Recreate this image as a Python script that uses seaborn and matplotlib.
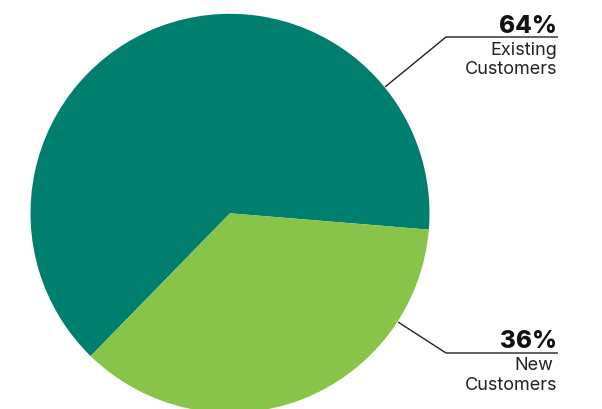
import matplotlib
matplotlib.use("Agg")
import matplotlib.pyplot as plt
import seaborn as sns

categories = ["Existing Customers", "New Customers"]
values = [64, 36]
pct_labels = ["64%", "36%"]
sub_labels = [["Existing", "Customers"], ["New", "Customers"]]
colors = ["#007E6E", "#89C44A"]

sns.set_theme(style="white")
plt.rcParams['font.family'] = ['Inter', 'DejaVu Sans']

W, H = 602, 409
fig = plt.figure(figsize=(W / 100, H / 100), dpi=100)
ax = fig.add_axes([0, 0, 1, 1])
ax.set_xlim(0, W)
ax.set_ylim(0, H)
ax.set_aspect('equal')
ax.axis('off')

cx, cy, r = 230, H - 213.3, 199.5
ax.pie(values, colors=colors, startangle=-4.7, counterclock=True,
       center=(cx, cy), radius=r, frame=True,
       wedgeprops=dict(linewidth=0, antialiased=True))
ax.set_xlim(0, W)
ax.set_ylim(0, H)
ax.axis('off')

def P(x, y):
    return x, H - y

leaders = [
    [P(385, 87), P(446, 37), P(558, 37)],
    [P(398, 322), P(446, 353), P(558, 353)],
]
for pts in leaders:
    xs, ys = zip(*pts)
    ax.plot(xs, ys, color="#222222", lw=1.0, solid_capstyle='butt')

big = dict(ha='right', va='baseline', fontsize=17.5, fontweight='heavy', color='#111111')
small = dict(ha='right', va='baseline', fontsize=13, color='#222222')

ax.text(557, H - 33, pct_labels[0], **big)
ax.text(557, H - 55, sub_labels[0][0], **small)
ax.text(557, H - 74.5, sub_labels[0][1], **small)

ax.text(557, H - 348, pct_labels[1], **big)
ax.text(553, H - 370.5, sub_labels[1][0], **small)
ax.text(557, H - 390.5, sub_labels[1][1], **small)

fig.savefig("out.png", dpi=100)
